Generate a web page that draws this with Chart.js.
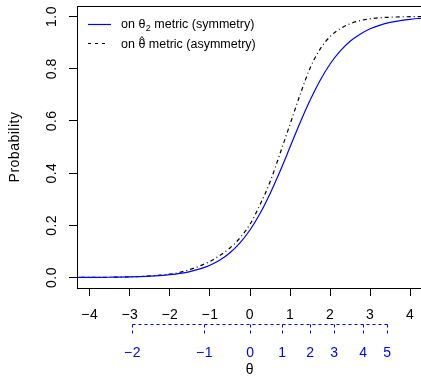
<!DOCTYPE html>
<html lang="en">
<head>
<meta charset="UTF-8" />
<title>Probability curves</title>
<script src="https://cdn.jsdelivr.net/npm/chart.js"></script>
<style>
  html, body { margin: 0; padding: 0; background: #fff; overflow: hidden; }
  canvas { display: block; }
</style>
</head>
<body>
<canvas id="chart" width="430" height="377"></canvas>
<script>
  // curve values
  const theta = [-4.5, -4, -3.75, -3.5, -3.25, -3, -2.75, -2.5, -2.25, -2, -1.75, -1.5, -1.25, -1, -0.75, -0.5, -0.25,
    0, 0.25, 0.5, 0.75, 1, 1.25, 1.5, 1.75, 2, 2.25, 2.5, 2.75, 3, 3.25, 3.5, 3.75, 4, 4.5];
  const probSym = [0.0003, 0.0006, 0.0008, 0.0012, 0.0017, 0.0025, 0.0036, 0.0052, 0.0076, 0.011, 0.0159, 0.023, 0.0331, 0.0474, 0.0675, 0.0953, 0.133,
    0.182, 0.245, 0.321, 0.407, 0.5, 0.593, 0.679, 0.755, 0.818, 0.867, 0.905, 0.932, 0.953, 0.967, 0.977, 0.984, 0.989, 0.995];
  const probAsym = [0.0003, 0.0006, 0.0008, 0.0012, 0.0018, 0.0027, 0.004, 0.006, 0.009, 0.013, 0.02, 0.031, 0.045, 0.062, 0.085, 0.113, 0.152,
    0.204, 0.279, 0.366, 0.475, 0.587, 0.70, 0.802, 0.875, 0.923, 0.953, 0.972, 0.984, 0.991, 0.995, 0.997, 0.9985, 0.999, 0.9997];

  const xTickValues = [-4, -3, -2, -1, 0, 1, 2, 3, 4];
  const yTickValues = [0, 0.2, 0.4, 0.6, 0.8, 1];

  // second (theta_2) scale shown under the axis
  const theta2Labels = [-2, -1, 0, 1, 2, 3, 4, 5];
  const theta2Positions = [-2.94, -1.14, 0, 0.81, 1.51, 2.11, 2.81, 3.41];

  const FONT = '"Liberation Sans", Arial, Helvetica, sans-serif';
  Chart.defaults.font.family = FONT;
  Chart.defaults.color = '#000';

  const fmt = v => String(v).replace('-', '\u2212');

  const extras = {
    id: 'extras',
    beforeDraw(chart) {
      // axis text in the original is a little wider than Arial
      chart.ctx.letterSpacing = '0.5px';
    },
    afterDraw(chart) {
      const { ctx, chartArea: a, scales: { x } } = chart;
      ctx.save();

      // box around plot region
      ctx.strokeStyle = '#000';
      ctx.lineWidth = 1;
      ctx.strokeRect(Math.round(a.left) + 0.5, Math.round(a.top) + 0.5,
        Math.round(a.right - a.left), Math.round(a.bottom - a.top));

      // theta_2 axis
      const yAx = 324.5;
      const px = theta2Positions.map(v => Math.round(x.getPixelForValue(v)) + 0.5);
      ctx.strokeStyle = 'blue';
      ctx.setLineDash([3, 3]);
      ctx.beginPath();
      ctx.moveTo(px[0], yAx);
      ctx.lineTo(px[px.length - 1], yAx);
      px.forEach(p => { ctx.moveTo(p, yAx); ctx.lineTo(p, yAx + 9); });
      ctx.stroke();
      ctx.setLineDash([]);
      ctx.fillStyle = 'blue';
      ctx.font = '14px ' + FONT;
      ctx.textAlign = 'center';
      ctx.textBaseline = 'middle';
      theta2Labels.forEach((l, i) => ctx.fillText(fmt(l), px[i], 353));

      // legend
      ctx.letterSpacing = '0px';
      const ds = chart.data.datasets;
      ctx.textAlign = 'left';
      ctx.lineWidth = 1.2;
      const big = '12.5px ' + FONT;

      ctx.strokeStyle = ds[0].borderColor;
      ctx.beginPath(); ctx.moveTo(88, 24.5); ctx.lineTo(111, 24.5); ctx.stroke();
      ctx.fillStyle = '#000';
      let tx = 121;
      ctx.font = big;
      ctx.fillText('on \u03b8', tx, 25);
      tx += ctx.measureText('on \u03b8').width;
      ctx.font = '9px ' + FONT;
      ctx.fillText('2', tx + 0.5, 29);
      tx += ctx.measureText('2').width + 0.5;
      ctx.font = big;
      ctx.fillText(' metric (symmetry)', tx, 25);

      ctx.strokeStyle = ds[1].borderColor;
      ctx.setLineDash([3, 4]);
      ctx.beginPath(); ctx.moveTo(88, 43.5); ctx.lineTo(109, 43.5); ctx.stroke();
      ctx.setLineDash([]);
      tx = 121;
      ctx.fillText('on ', tx, 45);
      tx += ctx.measureText('on ').width;
      const tw = ctx.measureText('\u03b8').width;
      ctx.fillText('\u03b8', tx, 45);
      // hat over theta
      const cx = tx + tw / 2;
      ctx.strokeStyle = '#000';
      ctx.lineWidth = 0.9;
      ctx.beginPath();
      ctx.moveTo(cx - 2.3, 39.5); ctx.lineTo(cx, 36.5); ctx.lineTo(cx + 2.3, 39.5);
      ctx.stroke();
      ctx.fillText(' metric (asymmetry)', tx + tw, 45);

      ctx.restore();
    }
  };

  new Chart(document.getElementById('chart'), {
    type: 'line',
    data: {
      datasets: [
        {
          label: 'on \u03b82 metric (symmetry)',
          data: theta.map((t, i) => ({ x: t, y: probSym[i] })),
          borderColor: 'blue',
          borderWidth: 1.2,
          pointRadius: 0,
          cubicInterpolationMode: 'monotone'
        },
        {
          label: 'on \u03b8\u0302 metric (asymmetry)',
          data: theta.map((t, i) => ({ x: t, y: probAsym[i] })),
          borderColor: '#000',
          borderWidth: 1.2,
          borderDash: [4, 3, 1, 3],
          pointRadius: 0,
          cubicInterpolationMode: 'monotone'
        }
      ]
    },
    options: {
      responsive: false,
      animation: false,
      layout: { padding: { top: 6, right: 7, left: 0, bottom: 0 } },
      plugins: { legend: { display: false }, tooltip: { enabled: false } },
      scales: {
        x: {
          type: 'linear',
          min: -4.32,
          max: 4.32,
          afterBuildTicks: s => { s.ticks = xTickValues.map(v => ({ value: v })); },
          afterFit: s => { s.height = 89; s.paddingLeft = 0; s.paddingRight = 0; },
          grid: { drawOnChartArea: false, tickLength: 8, color: '#000' },
          border: { display: false },
          ticks: { font: { size: 14 }, padding: 11, maxRotation: 0, autoSkip: false, callback: v => fmt(v) },
          title: { display: true, text: '\u03b8', font: { size: 14, lineHeight: 1 }, padding: 0 }
        },
        y: {
          min: -0.04,
          max: 1.04,
          afterBuildTicks: s => { s.ticks = yTickValues.map(v => ({ value: v })); },
          afterFit: s => { s.width = 77; s.paddingTop = 0; s.paddingBottom = 0; },
          grid: { drawOnChartArea: false, tickLength: 8, color: '#000' },
          border: { display: false },
          ticks: { font: { size: 14 }, padding: 7, minRotation: 90, maxRotation: 90, crossAlign: 'center',
            callback: v => v.toFixed(1) },
          title: { display: true, text: 'Probability', font: { size: 14 }, padding: { top: 7, bottom: 0 } }
        }
      }
    },
    plugins: [extras]
  });
</script>
</body>
</html>
